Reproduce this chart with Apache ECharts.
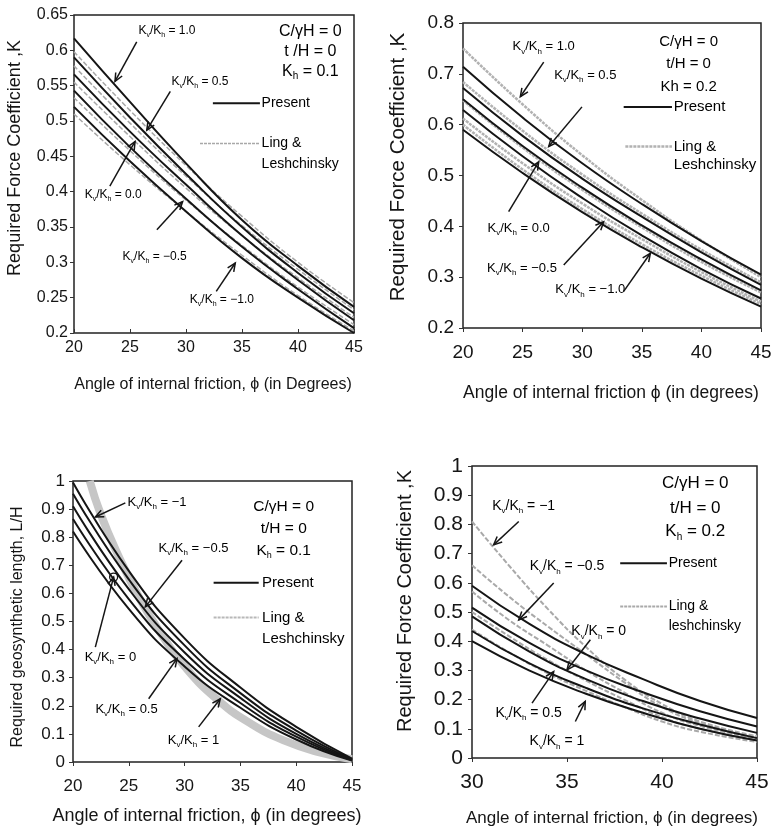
<!DOCTYPE html>
<html>
<head>
<meta charset="utf-8">
<script src="https://cdn.jsdelivr.net/npm/echarts@6/dist/echarts.min.js"></script>
<style>
  html, body { margin: 0; padding: 0; background: #fff; }
  #chart { width: 776px; height: 832px; }
</style>
</head>
<body>
<div id="chart"></div>
<script>
// ---- data ----
const phi = [20, 25, 30, 35, 40, 45];
const phi3Ling = [21.5, 22.5, 24, 26, 28, 30, 33, 36, 39, 42, 45];
const phi4 = [30, 33, 36, 39, 42, 45];
const phi4Ling = [30, 32, 34, 36, 38, 40, 42, 45];

// top-left, Kh = 0.1, Kv/Kh = 1.0, 0.5, 0.0, -0.5, -1.0
const p1Present = [
  [0.617, 0.527, 0.440, 0.360, 0.295, 0.237],
  [0.590, 0.505, 0.425, 0.350, 0.285, 0.228],
  [0.566, 0.485, 0.410, 0.338, 0.275, 0.218],
  [0.543, 0.463, 0.390, 0.322, 0.262, 0.207],
  [0.520, 0.443, 0.372, 0.306, 0.250, 0.200]
];
const p1Ling = [
  [0.598, 0.515, 0.437, 0.365, 0.300, 0.243],
  [0.578, 0.497, 0.422, 0.352, 0.290, 0.233],
  [0.555, 0.478, 0.405, 0.338, 0.278, 0.222],
  [0.533, 0.458, 0.388, 0.324, 0.265, 0.212],
  [0.510, 0.438, 0.372, 0.310, 0.253, 0.203]
];

// top-right, Kh = 0.2
const p2Present = [
  [0.714, 0.614, 0.524, 0.444, 0.371, 0.305],
  [0.672, 0.578, 0.494, 0.419, 0.349, 0.285],
  [0.650, 0.558, 0.476, 0.402, 0.335, 0.274],
  [0.629, 0.538, 0.456, 0.382, 0.316, 0.258],
  [0.590, 0.505, 0.428, 0.359, 0.297, 0.242]
];
const p2Ling = [
  [0.750, 0.640, 0.540, 0.452, 0.372, 0.300],
  [0.684, 0.588, 0.502, 0.425, 0.354, 0.290],
  [0.648, 0.555, 0.472, 0.398, 0.330, 0.270],
  [0.612, 0.524, 0.445, 0.375, 0.310, 0.252],
  [0.600, 0.512, 0.434, 0.365, 0.303, 0.247]
];

// bottom-left, L/H, Kh = 0.1, Kv/Kh = -1, -0.5, 0, 0.5, 1
const p3Present = [
  [0.995, 0.680, 0.440, 0.265, 0.125, 0.012],
  [0.955, 0.650, 0.415, 0.245, 0.112, 0.010],
  [0.910, 0.615, 0.390, 0.228, 0.100, 0.008],
  [0.865, 0.580, 0.365, 0.210, 0.090, 0.006],
  [0.820, 0.545, 0.340, 0.193, 0.080, 0.005]
];
const p3Ling = [1.0, 0.88, 0.74, 0.58, 0.45, 0.34, 0.22, 0.135, 0.075, 0.035, 0.01];

// bottom-right, Kh = 0.2, Kv/Kh = -1, -0.5, 0, 0.5, 1
const p4Present = [
  [0.590, 0.460, 0.355, 0.270, 0.195, 0.137],
  [0.515, 0.395, 0.300, 0.225, 0.160, 0.108],
  [0.485, 0.365, 0.270, 0.195, 0.135, 0.086],
  [0.435, 0.325, 0.240, 0.170, 0.115, 0.068],
  [0.400, 0.300, 0.220, 0.155, 0.100, 0.060]
];
const p4Ling = [
  [0.81, 0.655, 0.51, 0.38, 0.27, 0.185, 0.125, 0.075],
  [0.66, 0.55, 0.45, 0.355, 0.26, 0.175, 0.12, 0.07],
  [0.57, 0.47, 0.385, 0.30, 0.225, 0.155, 0.11, 0.065],
  [0.50, 0.415, 0.335, 0.265, 0.20, 0.14, 0.10, 0.06],
  [0.44, 0.36, 0.29, 0.23, 0.175, 0.125, 0.09, 0.055]
];

const ratiosTop = ['1.0', '0.5', '0.0', '\u22120.5', '\u22121.0'];
const ratiosBottom = ['\u22121', '\u22120.5', '0', '0.5', '1'];

const FONT = 'Liberation Sans, Arial, sans-serif';
const INK = '#151515';

const chartDom = document.getElementById('chart');
const myChart = echarts.init(chartDom, null, { renderer: 'canvas' });

const grays = [
  { color: '#a8a8a8', width: 1.5, type: [5, 2] },
  { color: '#b2b2b2', width: 2.5, type: [3, 1] },
  { color: '#c6c6c6', width: 8, type: 'solid' },
  { color: '#a9a9a9', width: 2, type: [5, 2] }
];

const toPairs = (xs, ys) => xs.map((x, i) => [x, ys[i]]);

const series = [];
const addCurves = (g, xs, curves, style) => {
  curves.forEach((c) => {
    series.push({
      type: 'line', xAxisIndex: g, yAxisIndex: g,
      data: toPairs(xs, c), smooth: true,
      symbol: 'none', silent: true, clip: true,
      lineStyle: style
    });
  });
};
addCurves(0, phi, p1Ling, grays[0]);
addCurves(0, phi, p1Present, { color: INK, width: 2 });
addCurves(1, phi, p2Ling, grays[1]);
addCurves(1, phi, p2Present, { color: INK, width: 2 });
addCurves(2, phi3Ling, [p3Ling], grays[2]);
addCurves(2, phi, p3Present, { color: INK, width: 2 });
addCurves(3, phi4Ling, p4Ling, grays[3]);
addCurves(3, phi4, p4Present, { color: INK, width: 2 });

const gridBase = { show: true, borderColor: '#222', borderWidth: 1.5, backgroundColor: 'transparent' };
const fmt = (v) => String(+v.toFixed(2));

const xAxisCfg = (g, min, max, fs, margin, inside) => ({
  type: 'value', gridIndex: g, min: min, max: max, interval: 5,
  splitLine: { show: false }, axisLine: { show: false },
  axisTick: { show: true, inside: !!inside, length: 4, lineStyle: { color: '#333' } },
  axisLabel: { fontSize: fs, fontFamily: FONT, color: INK, margin: margin, formatter: fmt }
});
const yAxisCfg = (g, min, max, step, fs, margin) => ({
  type: 'value', gridIndex: g, min: min, max: max, interval: step,
  splitLine: { show: false }, axisLine: { show: false },
  axisTick: { show: true, length: 4, lineStyle: { color: '#333' } },
  axisLabel: { fontSize: fs, fontFamily: FONT, color: INK, margin: margin, formatter: fmt }
});

myChart.setOption({
  backgroundColor: '#fff',
  animation: false,
  grid: [
    Object.assign({ left: 74, top: 15, width: 280, height: 318 }, gridBase),
    Object.assign({ left: 463, top: 23, width: 298, height: 305 }, gridBase),
    Object.assign({ left: 73, top: 481, width: 279, height: 281 }, gridBase),
    Object.assign({ left: 472, top: 466, width: 285, height: 292 }, gridBase)
  ],
  xAxis: [
    xAxisCfg(0, 20, 45, 16, 7, true),
    xAxisCfg(1, 20, 45, 19, 15),
    xAxisCfg(2, 20, 45, 17, 16),
    xAxisCfg(3, 30, 45, 21, 14)
  ],
  yAxis: [
    yAxisCfg(0, 0.2, 0.65, 0.05, 16, 6),
    yAxisCfg(1, 0.2, 0.8, 0.1, 19, 9),
    yAxisCfg(2, 0, 1, 0.1, 17, 8),
    yAxisCfg(3, 0, 1, 0.1, 21, 9)
  ],
  series: series
});

// ---- annotations (data coordinates of each panel) ----
const panels = [
  {
    g: 0, fs: 12, pfs: 16, lfs: 14, gray: grays[0], ratios: ratiosTop,
    labels: [[28.3, 0.628], [31.25, 0.556], [23.5, 0.396], [27.2, 0.308], [33.2, 0.247]],
    arrows: [[25.6, 0.612, 23.66, 0.556], [28.6, 0.542, 26.5, 0.487], [23.2, 0.408, 25.45, 0.471],
             [27.4, 0.346, 29.7, 0.386], [32.7, 0.259, 34.4, 0.299]],
    params: [[41.1, 0.626, 'C/\u03b3H = 0'], [41.1, 0.598, 't /H = 0'], [41.1, 0.570, 'K{s|h} = 0.1']],
    legend: { x1: 32.4, x2: 36.6, tx: 36.75, yP: 0.525, x1g: 31.25, yL: 0.468, yL2: 0.439, ling: 'Leshchinsky' },
    xTitle: ['Angle of internal friction, \u03d5 (in Degrees)', 213, 385, 16],
    yTitle: ['Required Force Coefficient ,K', 15.5, 158, 18]
  },
  {
    g: 1, fs: 13, pfs: 15, lfs: 15, gray: grays[1], ratios: ratiosTop,
    labels: [[26.77, 0.753], [30.26, 0.697], [24.67, 0.396], [24.95, 0.318], [30.68, 0.275]],
    arrows: [[26.77, 0.723, 24.81, 0.655], [29.98, 0.635, 27.19, 0.557], [23.83, 0.429, 26.35, 0.527],
             [28.45, 0.324, 31.8, 0.409], [33.48, 0.272, 35.72, 0.347]],
    params: [[38.93, 0.763, 'C/\u03b3H = 0'], [38.93, 0.720, 't/H = 0'], [38.93, 0.674, 'Kh = 0.2']],
    legend: { x1: 33.48, x2: 37.53, tx: 37.67, yP: 0.635, x1g: 33.62, yL: 0.557, yL2: 0.52, ling: 'Leshchinsky' },
    xTitle: ['Angle of internal friction \u03d5 (in degrees)', 611, 393, 17.5],
    yTitle: ['Required Force Coefficient ,K', 398, 167, 20.5]
  },
  {
    g: 2, fs: 13, pfs: 15.5, lfs: 15, gray: { color: '#b8b8b8', width: 2, type: [4, 2] }, ratios: ratiosBottom,
    labels: [[27.53, 0.925], [30.8, 0.76], [23.35, 0.371], [24.8, 0.186], [30.8, 0.077]],
    arrows: [[24.69, 0.922, 22.0, 0.872], [29.77, 0.718, 26.48, 0.552], [22.0, 0.409, 23.64, 0.658],
             [26.78, 0.225, 29.32, 0.368], [31.26, 0.125, 33.2, 0.225]],
    params: [[38.88, 0.907, 'C/\u03b3H = 0'], [38.88, 0.83, 't/H = 0'], [38.88, 0.753, 'K{s|h} = 0.1']],
    legend: { x1: 32.6, x2: 36.64, tx: 36.94, yP: 0.638, x1g: 32.6, yL: 0.514, yL2: 0.439, ling: 'Leshchinsky' },
    circle: [23.64, 0.658],
    xTitle: ['Angle of internal friction, \u03d5 (in degrees)', 207, 816, 18],
    yTitle: ['Required geosynthetic length, L/H', 18, 627, 16]
  },
  {
    g: 3, fs: 14, pfs: 17, lfs: 14, gray: grays[3], ratios: ratiosBottom,
    labels: [[32.72, 0.863], [35.0, 0.656], [36.67, 0.433], [32.98, 0.154], [34.47, 0.057]],
    arrows: [[32.46, 0.81, 31.14, 0.73], [34.3, 0.599, 32.46, 0.473], [36.23, 0.405, 35.0, 0.302],
             [33.16, 0.188, 34.3, 0.296], [35.44, 0.125, 35.96, 0.194]],
    params: [[41.75, 0.941, 'C/\u03b3H = 0'], [41.75, 0.855, 't/H = 0'], [41.75, 0.775, 'K{s|h} = 0.2']],
    legend: { x1: 37.8, x2: 40.26, tx: 40.35, yP: 0.667, x1g: 37.8, yL: 0.519, yL2: 0.45, ling: 'leshchinsky' },
    xTitle: ['Angle of internal friction, \u03d5 (in degrees)', 612, 818, 17],
    yTitle: ['Required Force Coefficient ,K', 405, 601, 20]
  }
];

const richFor = (fs) => ({
  n: { fontSize: fs, fontFamily: FONT, color: INK },
  s: { fontSize: Math.round(fs * 0.6), fontFamily: FONT, color: INK, verticalAlign: 'bottom', padding: [0, 0, -2, 0] }
});
// turns plain 'K{s|h}' style strings into rich text with normal runs wrapped
const richText = (str) => str.split(/(\{s\|[^}]*\})/).filter(Boolean)
  .map((part) => part.startsWith('{s|') ? part : '{n|' + part + '}').join('');

const graphic = [];
panels.forEach((p) => {
  const px = (x, y) => myChart.convertToPixel({ gridIndex: p.g }, [x, y]);
  const txt = (x, y, str, fs, align) => {
    const q = px(x, y);
    graphic.push({
      type: 'text', x: q[0], y: q[1], z: 100, silent: true,
      style: { text: richText(str), rich: richFor(fs), align: align || 'center', verticalAlign: 'middle' }
    });
  };
  p.labels.forEach((l, i) => {
    txt(l[0], l[1], 'K{s|v}/K{s|h} = ' + p.ratios[i], p.fs);
  });
  p.arrows.forEach((a) => {
    const s = px(a[0], a[1]);
    const e = px(a[2], a[3]);
    const ang = Math.atan2(e[1] - s[1], e[0] - s[0]);
    const L = 9, w = 0.42;
    const h1 = [e[0] - L * Math.cos(ang - w), e[1] - L * Math.sin(ang - w)];
    const h2 = [e[0] - L * Math.cos(ang + w), e[1] - L * Math.sin(ang + w)];
    graphic.push({ type: 'line', z: 100, silent: true, shape: { x1: s[0], y1: s[1], x2: e[0], y2: e[1] },
      style: { stroke: INK, lineWidth: 1.5 } });
    graphic.push({ type: 'polyline', z: 100, silent: true, shape: { points: [h1, e, h2] },
      style: { stroke: INK, lineWidth: 1.5, fill: null } });
  });
  if (p.circle) {
    const c = px(p.circle[0], p.circle[1]);
    graphic.push({ type: 'circle', z: 100, silent: true, shape: { cx: c[0], cy: c[1], r: 4 },
      style: { stroke: INK, lineWidth: 1.3, fill: 'none' } });
  }
  p.params.forEach((t) => txt(t[0], t[1], t[2], p.pfs));
  // in-plot legend
  const lg = p.legend;
  const a1 = px(lg.x1, lg.yP), a2 = px(lg.x2, lg.yP);
  graphic.push({ type: 'line', z: 100, silent: true, shape: { x1: a1[0], y1: a1[1], x2: a2[0], y2: a2[1] },
    style: { stroke: INK, lineWidth: 2 } });
  const b1 = px(lg.x1g, lg.yL), b2 = px(lg.x2, lg.yL);
  graphic.push({ type: 'line', z: 100, silent: true, shape: { x1: b1[0], y1: b1[1], x2: b2[0], y2: b2[1] },
    style: { stroke: p.gray.color, lineWidth: Math.min(p.gray.width, 2.5), lineDash: [3, 1] } });
  txt(lg.tx, lg.yP, 'Present', p.lfs, 'left');
  txt(lg.tx, lg.yL, 'Ling &', p.lfs, 'left');
  txt(lg.tx, lg.yL2, lg.ling, p.lfs, 'left');
  // axis titles
  graphic.push({ type: 'text', x: p.xTitle[1], y: p.xTitle[2], z: 100, silent: true,
    style: { text: p.xTitle[0], fontSize: p.xTitle[3], fontFamily: FONT, fill: INK, align: 'center', verticalAlign: 'middle' } });
  graphic.push({ type: 'text', x: p.yTitle[1], y: p.yTitle[2], rotation: Math.PI / 2, z: 100, silent: true,
    style: { text: p.yTitle[0], fontSize: p.yTitle[3], fontFamily: FONT, fill: INK, align: 'center', verticalAlign: 'middle' } });
});

myChart.setOption({ graphic: graphic });
</script>
</body>
</html>
